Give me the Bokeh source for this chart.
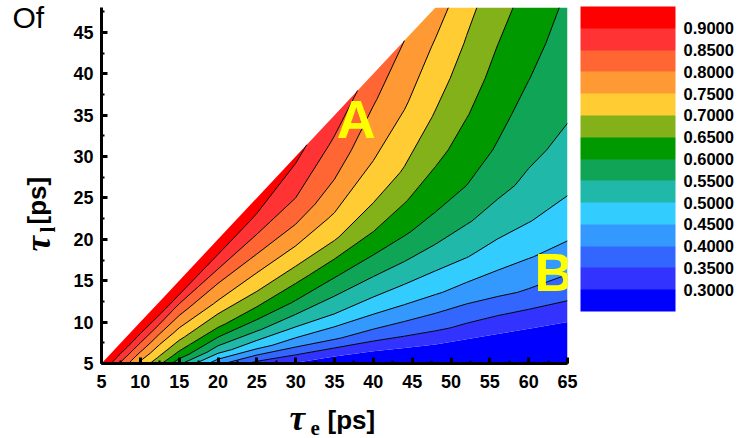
import math
import numpy as np
from bokeh.plotting import figure
from bokeh.models import (Range1d, SingleIntervalTicker, Label, ColorBar,
                          LinearColorMapper, FixedTicker, PrintfTickFormatter)
from bokeh.core.properties import value
from bokeh.embed import file_html
from bokeh.resources import INLINE

# ---------------- data ----------------
# columns of the grid: tau_e [ps]
tau_e = [5, 7.5, 10, 12.5, 15, 20, 25, 30, 35, 40, 44, 48, 52, 56, 60, 65]
# rows: fraction of the column height, from tau_l = 5 up to min(tau_e, 48)
frac = [0.0, 0.1, 0.2, 0.3, 0.4, 0.5, 0.6, 0.7, 0.8, 0.9, 1.0]
tau_l_min = 5
tau_l_max = 48

# values per column (bottom -> top)
z_5    = [0.960, 0.960, 0.960, 0.960, 0.960, 0.960, 0.960, 0.960, 0.960, 0.960, 0.960]
z_7_5  = [0.840, 0.852, 0.864, 0.876, 0.888, 0.900, 0.914, 0.928, 0.942, 0.956, 0.970]
z_10   = [0.738, 0.758, 0.781, 0.805, 0.827, 0.850, 0.873, 0.895, 0.919, 0.942, 0.965]
z_12_5 = [0.660, 0.693, 0.721, 0.748, 0.777, 0.806, 0.838, 0.870, 0.904, 0.932, 0.960]
z_15   = [0.562, 0.628, 0.671, 0.707, 0.740, 0.773, 0.807, 0.840, 0.889, 0.924, 0.955]
z_20   = [0.413, 0.519, 0.592, 0.656, 0.700, 0.747, 0.782, 0.822, 0.868, 0.909, 0.945]
z_25   = [0.332, 0.465, 0.554, 0.625, 0.684, 0.729, 0.773, 0.817, 0.858, 0.898, 0.930]
z_30   = [0.295, 0.427, 0.522, 0.597, 0.658, 0.718, 0.765, 0.813, 0.850, 0.880, 0.910]
z_35   = [0.260, 0.404, 0.500, 0.570, 0.636, 0.703, 0.747, 0.787, 0.818, 0.845, 0.875]
z_40   = [0.240, 0.382, 0.479, 0.550, 0.617, 0.677, 0.719, 0.750, 0.776, 0.803, 0.833]
z_44   = [0.235, 0.371, 0.467, 0.540, 0.603, 0.652, 0.697, 0.726, 0.754, 0.777, 0.800]
z_48   = [0.230, 0.361, 0.456, 0.529, 0.589, 0.632, 0.666, 0.697, 0.722, 0.746, 0.775]
z_52   = [0.220, 0.338, 0.430, 0.502, 0.555, 0.600, 0.627, 0.653, 0.675, 0.696, 0.715]
z_56   = [0.215, 0.318, 0.411, 0.474, 0.526, 0.565, 0.595, 0.615, 0.633, 0.651, 0.670]
z_60   = [0.210, 0.302, 0.394, 0.453, 0.502, 0.538, 0.563, 0.582, 0.601, 0.616, 0.630]
z_65   = [0.200, 0.286, 0.370, 0.430, 0.475, 0.510, 0.535, 0.555, 0.567, 0.580, 0.592]

level_ticks = [0.30, 0.35, 0.40, 0.45, 0.50, 0.55, 0.60,
               0.65, 0.70, 0.75, 0.80, 0.85, 0.90]
band_colors = ["#0000FF", "#3333FF", "#3366FF", "#3399FF", "#33CCFF", "#20B8A9",
               "#10A556", "#009900", "#82B11A", "#FFCC33", "#FF9933", "#FF6633",
               "#FF3333", "#FF0000"]
x_tick_step = 5
y_tick_step = 5

# in-plot letters: (text, tau_e, tau_l, align)
label_A = ("A", 37.8, 34.5, "center")
label_B = ("B", 60.75, 16.1, "left")

# ---------------- build grid ----------------
columns = [z_5, z_7_5, z_10, z_12_5, z_15, z_20, z_25, z_30, z_35, z_40,
           z_44, z_48, z_52, z_56, z_60, z_65]
X = np.array([[te for te in tau_e] for s in frac], dtype=float)
Y = np.array([[tau_l_min + s * (min(te, tau_l_max) - tau_l_min) for te in tau_e]
              for s in frac], dtype=float)
Z = np.array(columns, dtype=float).T

levels = [0.0] + level_ticks + [1.0]
line_alpha = [0.0, 0.0] + [1.0] * (len(level_ticks) - 1) + [0.0]

W, H = 745, 438
FL, FT, FR, FB = 101, 7, 178, 75      # borders around the frame
FW, FH = W - FL - FR, H - FT - FB     # 466 x 356
X0, X1 = 5, 65

p = figure(width=W, height=H, output_backend="svg",
           toolbar_location=None, x_range=Range1d(X0, X1),
           y_range=Range1d(tau_l_min, tau_l_max),
           min_border_left=FL, min_border_right=FR, min_border_top=FT,
           min_border_bottom=FB, background_fill_color="white",
           border_fill_color="white")
p.outline_line_color = None
p.grid.visible = False

p.contour(X, Y, Z, levels, fill_color=band_colors, line_color="black",
          line_width=1, line_alpha=line_alpha)

for txt, xx, yy, al in (label_A, label_B):
    p.text(x=[xx], y=[yy], text=[txt], text_font=value("Liberation Sans"),
           text_font_style="bold", text_font_size="54px", text_color="#FFFF00",
           text_align=al, text_baseline="middle")

p.xaxis.ticker = SingleIntervalTicker(interval=x_tick_step, num_minor_ticks=2)
p.yaxis.ticker = SingleIntervalTicker(interval=y_tick_step, num_minor_ticks=2)
for ax in (p.xaxis[0], p.yaxis[0]):
    ax.axis_line_width = 3
    ax.axis_line_color = "black"
    ax.major_tick_in = 6
    ax.major_tick_out = 0
    ax.minor_tick_in = 3
    ax.minor_tick_out = 0
    ax.major_tick_line_width = 3
    ax.minor_tick_line_width = 2
    ax.major_label_text_font = "Liberation Sans"
    ax.major_label_text_font_style = "bold"
    ax.major_label_text_font_size = "18px"
    ax.major_label_text_color = "black"
p.xaxis.major_label_standoff = 11
p.yaxis.major_label_standoff = 8

# pixel -> data helpers for placing the titles (titles live in side panels,
# so they are not clipped by the frame)
PX_X = FW / (X1 - X0)
PX_Y = FH / (tau_l_max - tau_l_min)


def lab(text, cx, cy, font, size, style="normal", angle=0.0, side="right"):
    p.add_layout(Label(x=X0 + (cx - FL) / PX_X,
                       y=tau_l_min + (FT + FH - cy) / PX_Y,
                       x_units="data", y_units="data",
                       text=text, text_font=font, text_font_size=size,
                       text_font_style=style, text_color="black", angle=angle,
                       text_align="left", text_baseline="middle"), side)


# x-axis title  τe [ps]
lab("\u03c4", 289, 418, "Liberation Serif", "35px", "bold italic")
lab("e", 310, 427, "Liberation Serif", "21px", "bold")
lab("[ps]", 327, 419, "Liberation Sans", "26px", "bold")
# y-axis title  τl [ps]
lab("\u03c4", 38, 251, "Liberation Serif", "35px", "bold italic", math.pi / 2)
lab("l", 47, 232, "Liberation Serif", "21px", "bold", math.pi / 2)
lab("[ps]", 36, 224, "Liberation Sans", "26px", "bold", math.pi / 2)
# caption fragment at the top-left
lab("Of", 12, 17, "Liberation Sans", "30px", side="left")

mapper = LinearColorMapper(palette=band_colors, low=0.25, high=0.95)
cb = ColorBar(color_mapper=mapper, ticker=FixedTicker(ticks=level_ticks),
              formatter=PrintfTickFormatter(format="%.4f"),
              width=95, height=305, location=(580 - FL, FT + FH - 311),
              padding=0, margin=0, label_standoff=8,
              major_tick_line_color=None, minor_tick_line_color=None,
              bar_line_color=None, border_line_color=None,
              background_fill_alpha=0.0,
              major_label_text_font="Liberation Sans",
              major_label_text_font_style="bold",
              major_label_text_font_size="16.5px",
              major_label_text_color="black")
p.add_layout(cb)

open("out.html", "w").write(file_html(p, INLINE))
